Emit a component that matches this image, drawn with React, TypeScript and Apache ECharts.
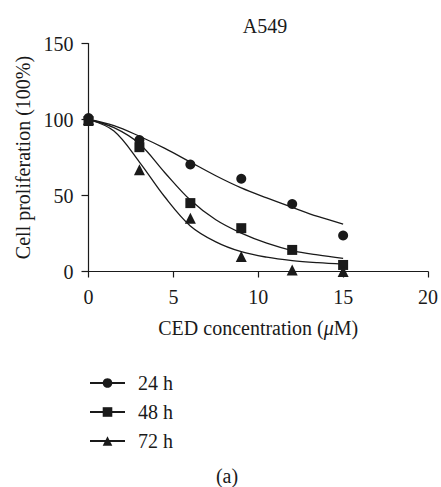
import React, { useEffect, useRef } from "react";
import * as echarts from "echarts";

const seriesNames = ["24 h", "48 h", "72 h"];
const doseX = [0, 3, 6, 9, 12, 15];
const points24 = [101, 86.5, 70.4, 61, 44.4, 23.7];
const points48 = [99, 81.8, 45, 28.5, 14.2, 4.3];
const points72 = [100, 67, 35, 9.8, 1, 0];
const fitX = [0, 1.5, 3, 4.5, 6, 7.5, 9, 10.5, 12, 13.5, 15];
const fit24 = [100, 96, 89, 81, 72, 63, 55, 48.4, 42.2, 36.2, 31.2];
const fit48 = [100, 94.6, 84, 65, 47, 34, 25.2, 18.6, 13.8, 10.9, 8.7];
const fit72 = [100, 92.4, 72, 49, 30, 19.5, 13, 9.4, 7.2, 5.8, 4.8];
const yTicks = { min: 0, max: 150, interval: 50 };
const xTicks = { min: 0, max: 20, interval: 5 };

const FONT = "Liberation Serif";
const INK = "#1a1a1a";

export default function App() {
  const ref = useRef<HTMLDivElement>(null);
  useEffect(() => {
    if (!ref.current) return;
    const chart = echarts.init(ref.current, undefined, { renderer: "svg" });
    const symbols = ["circle", "rect", "triangle"];
    const sizes = [10, 10, 11];
    const pts = [points24, points48, points72];
    const fits = [fit24, fit48, fit72];
    const series: any[] = [];
    seriesNames.forEach((name, i) => {
      series.push({
        name,
        type: "line",
        smooth: 0.35,
        showSymbol: false,
        symbol: symbols[i],
        symbolSize: sizes[i],
        data: fitX.map((x, j) => [x, fits[i][j]]),
        lineStyle: { color: INK, width: 1.3 },
        itemStyle: { color: INK, opacity: 1 },
        z: 2,
      });
      series.push({
        name: name + " data",
        type: "scatter",
        symbol: symbols[i],
        symbolSize: sizes[i],
        data: doseX.map((x, j) => [x, pts[i][j]]),
        itemStyle: { color: INK, opacity: 1 },
        z: 3,
      });
    });
    chart.setOption({
      animation: false,
      backgroundColor: "#fff",
      textStyle: { fontFamily: FONT, color: INK },
      title: [
        {
          text: "A549",
          left: 260,
          top: 11,
          textAlign: "center",
          textStyle: { fontFamily: FONT, fontSize: 20, fontWeight: "normal", color: INK },
        },
        {
          text: "(a)",
          left: 222,
          top: 461,
          textAlign: "center",
          textStyle: { fontFamily: FONT, fontSize: 20, fontWeight: "normal", color: INK },
        },
      ],
      grid: { left: 88.5, right: 9.3, top: 43.5, bottom: 215.5 },
      legend: {
        data: seriesNames,
        orient: "vertical",
        left: 89,
        top: 373,
        padding: 0,
        itemWidth: 35,
        itemHeight: 12,
        itemGap: 9,
        textStyle: { fontFamily: FONT, fontSize: 20, color: INK, lineHeight: 20, padding: [0, 0, 0, 8] },
      },
      xAxis: {
        type: "value",
        min: xTicks.min,
        max: xTicks.max,
        interval: xTicks.interval,
        name: "CED concentration ({i|μ}M)",
        nameLocation: "middle",
        nameGap: 46,
        nameTextStyle: {
          fontFamily: FONT,
          fontSize: 20,
          color: INK,
          rich: { i: { fontFamily: FONT, fontSize: 20, fontStyle: "italic", color: INK } },
        },
        axisLine: { show: true, onZero: false, lineStyle: { color: INK, width: 1.2 } },
        axisTick: { show: true, inside: false, length: 6, lineStyle: { color: INK, width: 1.2 } },
        axisLabel: { fontFamily: FONT, fontSize: 20, color: INK, margin: 15 },
        splitLine: { show: false },
      },
      yAxis: {
        type: "value",
        min: yTicks.min,
        max: yTicks.max,
        interval: yTicks.interval,
        name: "Cell proliferation (100%)",
        nameLocation: "middle",
        nameGap: 50,
        nameTextStyle: { fontFamily: FONT, fontSize: 20, color: INK },
        axisLine: { show: true, lineStyle: { color: INK, width: 1.2 } },
        axisTick: { show: true, inside: false, length: 7, lineStyle: { color: INK, width: 1.2 } },
        axisLabel: { fontFamily: FONT, fontSize: 20, color: INK, margin: 15 },
        splitLine: { show: false },
      },
      series,
    });
    return () => chart.dispose();
  }, []);
  return <div ref={ref} style={{ width: 441, height: 487, position: "absolute", left: 0, top: 0 }} />;
}
